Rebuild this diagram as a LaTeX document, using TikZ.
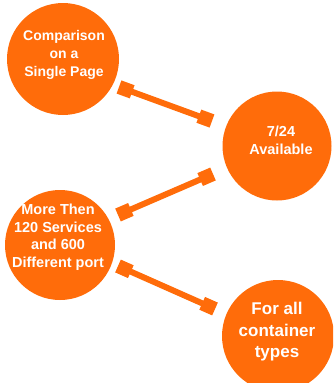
\documentclass[tikz,border=0pt]{standalone}
\usepackage{fontspec}
\setmainfont{Liberation Sans}
\usetikzlibrary{arrows.meta}
\definecolor{org}{RGB}{255,108,10}
\begin{document}
\begin{tikzpicture}[x=1pt,y=-1pt,
  bubble/.style={circle,fill=org,minimum size=#1,inner sep=0pt},
  label/.style={text=white,font=\bfseries,align=center},
  link/.style={draw=org,line width=6pt,{Square[length=14pt,width=14pt]}-{Square[length=14pt,width=14pt]}}]
\useasboundingbox (0,0) rectangle (333,383);
\begin{scope}
\clip (0,0) rectangle (333,383);
\node[bubble=112pt] (c1) at (63,59) {};
\node[bubble=109pt] (c2) at (277,146) {};
\node[bubble=110pt] (c3) at (60,245) {};
\node[bubble=112pt] (c4) at (278,336) {};
\end{scope}
\node[label,font=\bfseries\fontsize{14}{18}\selectfont] (t1) at (64,55) {Comparison\\on a\\Single Page};
\node[label,font=\bfseries\fontsize{14.5}{18}\selectfont] (t2) at (281,140) {7/24\\Available};
\node[label,font=\bfseries\fontsize{14.5}{17.5}\selectfont] (t3) at (58,237) {More Then\\120 Services\\and 600\\Different port};
\node[label,font=\bfseries\fontsize{17}{21.5}\selectfont] (t4) at (277,332) {For all\\container\\types};
\coordinate (a1) at (119,87);
\coordinate (b1) at (212,121);
\coordinate (a2) at (213,174);
\coordinate (b2) at (118,215);
\coordinate (a3) at (118,266);
\coordinate (b3) at (215,309);
\draw[link] (a1) -- (b1);
\draw[link] (a2) -- (b2);
\draw[link] (a3) -- (b3);
\end{tikzpicture}
\end{document}
